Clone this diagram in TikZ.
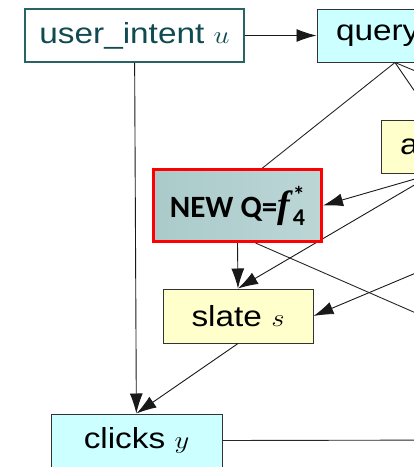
\documentclass[tikz,border=0pt]{standalone}
\usepackage{fontspec}
\setmainfont{Liberation Sans}
\newfontfamily\calfont{Carlito}
\newfontfamily\timesfont{Liberation Serif}
\usetikzlibrary{arrows.meta}

\definecolor{cyanfill}{RGB}{204,255,255}
\definecolor{yellowfill}{RGB}{255,255,204}
\definecolor{tealline}{RGB}{40,100,100}
\definecolor{tealtext}{RGB}{15,75,80}
\definecolor{qdark}{RGB}{170,202,202}
\definecolor{qlight}{RGB}{188,214,214}

% stretched label text
\newcommand{\wtext}[1]{\scalebox{1.15}[1]{#1}}
% bold italic f with star and index
\newcommand{\fstar}{{\timesfont\bfseries\itshape\fontsize{38}{40}\selectfont f}\kern3pt%
  \rlap{\raisebox{14pt}{\fontsize{24}{24}\selectfont *}}\raisebox{-8pt}{\fontsize{24}{24}\selectfont 4}}

\tikzset{
  box/.style={draw=black!80, line width=1pt, minimum height=53pt, inner sep=0pt,
    font=\fontsize{29}{31}\selectfont},
  cyanbox/.style={box, fill=cyanfill},
  yellowbox/.style={box, fill=yellowfill},
  arr/.style={-{Latex[length=20pt,width=13pt]}, line width=0.9pt, draw=black!90},
  con/.style={line width=0.9pt, draw=black!85}
}

\begin{document}
\begin{tikzpicture}[x=1pt,y=-1pt]
  \useasboundingbox (0,0) rectangle (414,467);
  \clip (0,0) rectangle (414,467);

  % nodes
  \node[box, draw=tealline, line width=1.5pt, text=tealtext, minimum width=219pt] (user) at (134.5,35.5) {\wtext{user\_intent $u$}};
  \node[cyanbox, text width=118pt, inner xsep=19pt, align=left] (query) at (395,35.5) {\wtext{query}};
  \node[yellowbox, text width=68pt, inner xsep=19pt, align=left] (act) at (434,146.5) {\wtext{a}};
  \node[yellowbox, minimum width=150pt, minimum height=54pt] (slate) at (238,316) {\wtext{slate $s$}};
  \node[cyanbox, minimum width=171pt] (clicks) at (136.5,440.5) {\wtext{clicks $y$}};

  % free ends, hidden or off the right edge
  \coordinate (qoff) at (480,98);
  \coordinate (soff) at (480,246);
  \coordinate (noff) at (480,341);
  \coordinate (coff) at (480,440);
  \coordinate (hidden) at (260,170);

  % connectors
  \draw[arr] (user) -- (query);
  \draw[arr] (user) -- (clicks);
  \draw[arr] (query.south) -- (act.north);
  \draw[con] (query.south) -- (qoff);
  \draw[con] (query.south) -- (hidden);
  \draw[arr] (act.south) -- (slate.north);
  \draw[arr] (soff) -- (slate.east);
  \draw[arr] (slate.south) -- (clicks.north);
  \draw[con] (clicks.east) -- (coff);

  % pasted box
  \node[draw=red, line width=3pt, left color=qdark, right color=qlight,
    minimum width=168pt, minimum height=72pt, inner sep=0pt,
    font=\calfont\bfseries\fontsize{31}{33}\selectfont] (newq) at (237.5,205.5)
    {NEW Q=\fstar};
  \draw[arr] (act.south) -- (newq.east);
  \draw[arr] (newq.south) -- (slate.north);
  \draw[con] ([xshift=18pt]newq.south) -- (noff);
\end{tikzpicture}
\end{document}
